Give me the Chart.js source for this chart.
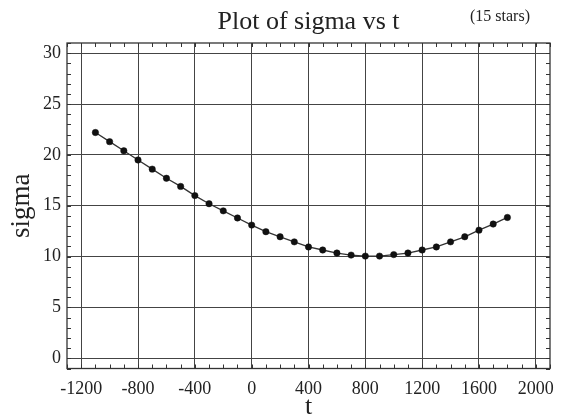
<!DOCTYPE html>
<html>
<head>
<meta charset="utf-8">
<script src="https://cdn.jsdelivr.net/npm/chart.js@4"></script>
<style>
  html, body { margin: 0; padding: 0; background: #fff; }
</style>
</head>
<body>
<canvas id="sigma-chart" width="567" height="420"></canvas>
<script>
const tValues = [-1100, -1000, -900, -800, -700, -600, -500, -400, -300, -200, -100, 0,
    100, 200, 300, 400, 500, 600, 700, 800, 900, 1000, 1100, 1200, 1300, 1400, 1500, 1600, 1700, 1800]
const sigmaValues = [22.2, 21.3, 20.4, 19.5, 18.6, 17.7, 16.9, 16.0, 15.2, 14.5, 13.8, 13.1,
    12.45, 11.95, 11.45, 10.95, 10.65, 10.35, 10.15, 10.05, 10.05, 10.2, 10.35, 10.65, 10.95, 11.45, 11.95, 12.6, 13.2, 13.85]
const xTicks = [-1200, -800, -400, 0, 400, 800, 1200, 1600, 2000]
const yTicks = [0, 5, 10, 15, 20, 25, 30]
const titleText = "Plot of sigma vs t"
const noteText = "(15 stars)"

const serif = '"Liberation Serif", "Times New Roman", serif'
const ink = "#222"

// frame box, small inward ticks on all four sides, and the "(15 stars)" note
const frameAndTicks = {
    id: "frameAndTicks",
    afterDraw(chart) {
        const {ctx, chartArea: a, scales: {x, y}} = chart
        ctx.save()
        ctx.strokeStyle = "#333"
        ctx.lineWidth = 1
        ctx.beginPath()
        for (let v = x.min; v <= x.max; v += 100) {
            const px = Math.round(x.getPixelForValue(v)) + 0.5
            ctx.moveTo(px, a.bottom); ctx.lineTo(px, a.bottom - 4)
            ctx.moveTo(px, a.top); ctx.lineTo(px, a.top + 4)
        }
        for (let v = y.min; v <= y.max; v += 1) {
            const py = Math.round(y.getPixelForValue(v)) + 0.5
            ctx.moveTo(a.left, py); ctx.lineTo(a.left + 4, py)
            ctx.moveTo(a.right, py); ctx.lineTo(a.right - 4, py)
        }
        ctx.stroke()
        ctx.lineWidth = 1.3
        ctx.strokeRect(a.left, a.top, a.right - a.left, a.bottom - a.top)
        ctx.font = "16px " + serif
        ctx.fillStyle = ink
        ctx.textAlign = "center"
        ctx.textBaseline = "alphabetic"
        ctx.fillText(noteText, a.right - 50, 21)
        ctx.restore()
    }
}

new Chart(document.getElementById("sigma-chart"), {
    type: "scatter",
    data: {
        datasets: [{
            data: tValues.map((t, i) => ({x: t, y: sigmaValues[i]})),
            showLine: true,
            borderColor: "#333",
            borderWidth: 1.3,
            pointRadius: 3.2,
            pointBackgroundColor: "#111",
            pointBorderColor: "#111",
            pointBorderWidth: 0.5
        }]
    },
    options: {
        responsive: false,
        animation: false,
        devicePixelRatio: 1,
        layout: {padding: {left: 0, right: 17, top: 0, bottom: 0}},
        plugins: {
            legend: {display: false},
            tooltip: {enabled: false},
            title: {
                display: true,
                text: titleText,
                fullSize: false,
                color: ink,
                font: {family: serif, size: 26, weight: "normal"},
                padding: {top: 7, bottom: 4.8}
            }
        },
        scales: {
            x: {
                type: "linear",
                min: -1300,
                max: 2100,
                afterBuildTicks: s => { s.ticks = xTicks.map(v => ({value: v})) },
                afterFit: s => { s.height = 51.5 },
                grid: {color: "#444", lineWidth: 1, drawTicks: false},
                border: {display: false},
                ticks: {
                    color: ink,
                    padding: 10,
                    maxRotation: 0,
                    font: {family: serif, size: 18},
                    callback: v => String(v)
                },
                title: {
                    display: true,
                    text: "t",
                    color: ink,
                    font: {family: serif, size: 26, lineHeight: 1},
                    padding: 0
                }
            },
            y: {
                min: -1,
                max: 31,
                afterBuildTicks: s => { s.ticks = yTicks.map(v => ({value: v})) },
                afterFit: s => { s.width = 67 },
                grid: {color: "#444", lineWidth: 1, drawTicks: false},
                border: {display: false},
                ticks: {
                    color: ink,
                    padding: 6,
                    font: {family: serif, size: 18},
                    callback: v => String(v)
                },
                title: {
                    display: true,
                    text: "sigma",
                    color: ink,
                    font: {family: serif, size: 27},
                    padding: {top: 6, bottom: 0}
                }
            }
        }
    },
    plugins: [frameAndTicks]
})
</script>
</body>
</html>
